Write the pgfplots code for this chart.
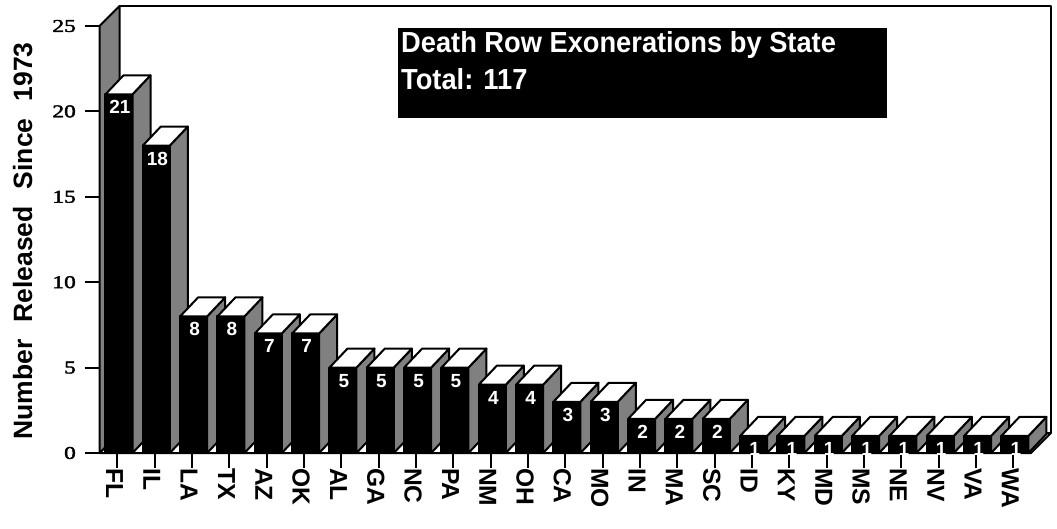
\documentclass[border=0pt]{standalone}
\usepackage{pgfplots}
\pgfplotsset{compat=1.18}
\usepackage{fontspec}
\setmainfont{Liberation Sans}
\newfontfamily\timesbold{Liberation Serif}[FakeBold=2]
\definecolor{sidegray}{RGB}{128,128,128}
\begin{document}
\begin{tikzpicture}[x=1pt,y=1pt]
\useasboundingbox (0,0) rectangle (1057,-529);
\begin{axis}[
  at={(99.58pt,-453pt)}, anchor=south west,
  x=37.33pt, y=17.08pt,
  xmin=-0.48, xmax=24.47, ymin=0, ymax=25,
  axis x line=bottom, axis y line=left,
  axis line style={line width=2pt, -},
  xtick={0,...,24},
  xticklabels={FL,IL,LA,TX,AZ,OK,AL,GA,NC,PA,NM,OH,CA,MO,IN,MA,SC,ID,KY,MD,MS,NE,NV,VA,WA},
  ytick={0,5,10,15,20,25},
  yticklabels={},
  tick align=outside,
  major tick length=15pt,
  tick style={line width=2pt, black},
  xticklabel style={rotate=-90, anchor=west, font=\fontsize{24.6}{24.6}\selectfont\bfseries, inner sep=0pt, yshift=-3pt},
  clip=false,
]
% floor
\filldraw[fill=white, draw=black, line width=2pt, line join=round]
  (axis cs:-0.48,0) -- (axis cs:24.47,0) -- ([shift={(20pt,20pt)}]axis cs:24.47,0) -- ([shift={(20pt,20pt)}]axis cs:-0.48,0) -- cycle;
\draw[line width=1pt] ([shift={(-3pt,0pt)}]axis cs:24.47,0) -- ([shift={(17pt,20pt)}]axis cs:24.47,0);
% back wall
\draw[line width=2pt, line join=round] ([shift={(20pt,20pt)}]axis cs:-0.48,25) -- ([shift={(20pt,20pt)}]axis cs:24.47,25) -- ([shift={(20pt,20pt)}]axis cs:24.47,0);
% left wall
\filldraw[fill=sidegray, draw=black, line width=2pt, line join=round]
  (axis cs:-0.48,0) -- (axis cs:-0.48,25) -- ([shift={(20pt,20pt)}]axis cs:-0.48,25) -- ([shift={(20pt,20pt)}]axis cs:-0.48,0) -- cycle;
% y tick labels
\pgfplotsinvokeforeach{0,5,10,15,20,25}{%
  \node[anchor=east, inner sep=0pt, xscale=1.3] at ([xshift=-23.5pt]axis cs:-0.48,#1) {\timesbold\fontsize{18}{18}\selectfont #1};
}
% bars
\addplot[scatter, only marks, mark=*, mark size=0pt, mark options={draw=none, fill=none},
  visualization depends on={rawy \as \rawy},
  scatter/@pre marker code/.code={%
    \pgfkeys{/pgf/fpu=false}%
    \pgfmathsetmacro\hh{-\rawy*17.08}%
    \pgfmathsetmacro\hb{19+\hh}%
    \pgfmathtruncatemacro\vv{round(\rawy)}%
    \filldraw[fill=black, draw=black, line width=2pt, line join=round] (-12pt,0pt) rectangle (15pt,\hh pt);
    \filldraw[fill=sidegray, draw=black, line width=2pt, line join=round] (15pt,0pt) -- (33pt,19pt) -- (33pt,\hb pt) -- (15pt,\hh pt) -- cycle;
    \filldraw[fill=white, draw=black, line width=2pt, line join=round] (-12pt,0pt) -- (15pt,0pt) -- (33pt,19pt) -- (6pt,19pt) -- cycle;
    \node[text=white, font=\fontsize{19}{19}\selectfont\bfseries, inner sep=0pt] at (2.5pt,-13pt) {\vv};
  },
  scatter/@post marker code/.code={},
] coordinates {
(0,21) (1,18) (2,8) (3,8) (4,7) (5,7) (6,5) (7,5) (8,5) (9,5) (10,4) (11,4) (12,3) (13,3) (14,2) (15,2) (16,2) (17,1) (18,1) (19,1) (20,1) (21,1) (22,1) (23,1) (24,1)
};
\end{axis}
% y label
\node[rotate=90, anchor=base, font=\fontsize{26.5}{26.5}\selectfont\bfseries, inner sep=0pt] at (32,-241)
  {Number\hspace{17pt}Released\hspace{17pt}Since\hspace{17pt}1973};
% title box
\fill[black] (398,-28) rectangle (887,-118);
\node[anchor=base west, text=white, xscale=0.94, font=\fontsize{29}{29}\selectfont\bfseries, inner sep=0pt] at (401,-53) {Death Row Exonerations by State};
\node[anchor=base west, text=white, xscale=0.94, font=\fontsize{29}{29}\selectfont\bfseries, inner sep=0pt] at (401,-90) {Total: 117};
\end{tikzpicture}
\end{document}
